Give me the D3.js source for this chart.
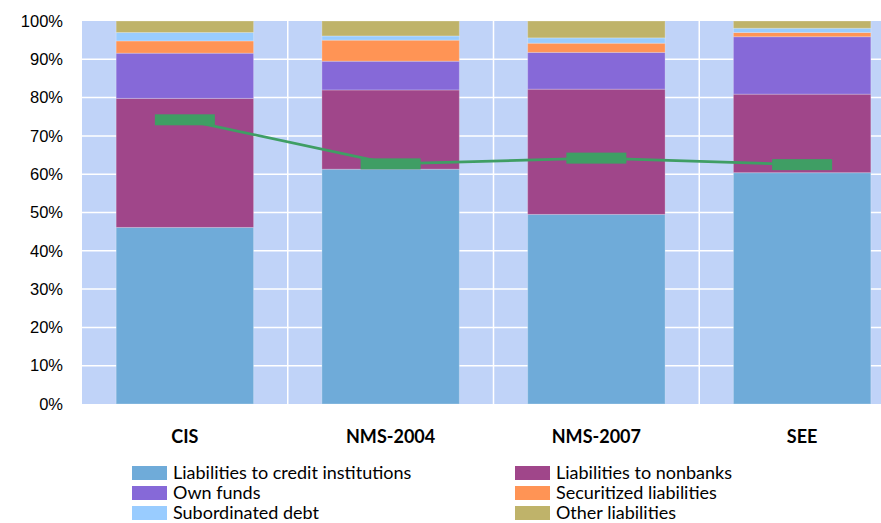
<!DOCTYPE html>
<html>
<head>
<meta charset="utf-8">
<title>Liabilities structure</title>
<style>
  body { margin: 0; background: #fff; }
  svg { font-family: Lato, "Open Sans", sans-serif; }
  .tick text { font-size: 16.5px; fill: #000; }
  .xlab { font-size: 18px; font-weight: bold; }
  .legend text { font-size: 18px; }
</style>
</head>
<body>
<svg width="881" height="523"></svg>
<script src="https://d3js.org/d3.v7.min.js"></script>
<script>
// data (shares of total, %)
const regions = ['CIS', 'NMS-2004', 'NMS-2007', 'SEE'];
const seriesNames = ['Liabilities to credit institutions', 'Liabilities to nonbanks', 'Own funds',
  'Securitized liabilities', 'Subordinated debt', 'Other liabilities'];
const creditInst = [46.1, 61.3, 49.5, 60.4];
const nonbanks = [33.7, 20.7, 32.7, 20.5];
const ownFunds = [11.8, 7.5, 9.6, 15.0];
const securitized = [3.2, 5.5, 2.4, 1.1];
const subordinated = [2.2, 1.1, 1.4, 1.1];
const other = [3.0, 3.9, 4.4, 1.9];
const lineValues = [74.2, 62.7, 64.2, 62.5];
const yTicks = [0, 10, 20, 30, 40, 50, 60, 70, 80, 90, 100];

const colors = ['#6fabd9', '#a0468a', '#8669d8', '#ff9455', '#99ccff', '#bfb36a'];

const width = 881, height = 523;
const margin = { top: 21, left: 82, bottom: 119 };
const plotW = 823; // plot runs past the right edge
const plotBottom = height - margin.bottom;

const svg = d3.select('svg');

const x = d3.scaleBand().domain(regions)
  .range([margin.left, margin.left + plotW])
  .paddingInner(0.332).paddingOuter(0.166);
const y = d3.scaleLinear().domain([0, 100]).range([plotBottom, margin.top]);

// background
svg.append('rect')
  .attr('x', margin.left).attr('y', margin.top)
  .attr('width', plotW).attr('height', plotBottom - margin.top)
  .attr('fill', '#c0d3f8');

// grid
svg.append('g').selectAll('line').data(yTicks.slice(1, -1)).join('line')
  .attr('x1', margin.left).attr('x2', margin.left + plotW)
  .attr('y1', d => y(d)).attr('y2', d => y(d))
  .attr('stroke', '#fff').attr('stroke-width', 1.5);
svg.append('g').selectAll('line').data(regions.slice(1)).join('line')
  .attr('x1', d => x(d) - x.step() * x.paddingInner() / 2)
  .attr('x2', d => x(d) - x.step() * x.paddingInner() / 2)
  .attr('y1', margin.top).attr('y2', plotBottom)
  .attr('stroke', '#fff').attr('stroke-width', 1.5);

// stacked bars
const table = regions.map((r, i) => ({
  region: r,
  s0: creditInst[i], s1: nonbanks[i], s2: ownFunds[i],
  s3: securitized[i], s4: subordinated[i], s5: other[i]
}));
const stack = d3.stack().keys(['s0', 's1', 's2', 's3', 's4', 's5'])(table);

svg.append('g').selectAll('g').data(stack).join('g')
  .attr('fill', (d, i) => colors[i])
  .selectAll('rect').data(d => d).join('rect')
  .attr('x', d => x(d.data.region))
  .attr('width', x.bandwidth())
  .attr('y', d => y(d[1]))
  .attr('height', d => y(d[0]) - y(d[1]))
  .attr('stroke', 'rgba(255,255,255,0.25)').attr('stroke-width', 1);

// line with dash markers
const cx = r => x(r) + x.bandwidth() / 2;
svg.append('path')
  .datum(lineValues)
  .attr('fill', 'none').attr('stroke', '#3f9e64').attr('stroke-width', 2.7)
  .attr('d', d3.line().x((d, i) => cx(regions[i])).y(d => y(d)));
svg.append('g').selectAll('rect').data(lineValues).join('rect')
  .attr('x', (d, i) => cx(regions[i]) - 30)
  .attr('y', d => y(d) - 5.5)
  .attr('width', 60).attr('height', 11)
  .attr('fill', '#3f9e64');

// y axis
const yAxis = svg.append('g')
  .attr('transform', `translate(${margin.left - 19},0)`)
  .call(d3.axisLeft(y).tickValues(yTicks).tickFormat(d => d + '%').tickSize(0).tickPadding(0));
yAxis.select('.domain').remove();
yAxis.selectAll('text').attr('font-family', null).attr('font-size', null);

// x labels
svg.append('g').selectAll('text').data(regions).join('text')
  .attr('class', 'xlab')
  .attr('x', d => cx(d))
  .attr('y', 443)
  .attr('text-anchor', 'middle')
  .text(d => d);

// legend
const legend = svg.append('g').attr('class', 'legend');
const items = legend.selectAll('g').data(seriesNames).join('g')
  .attr('transform', (d, i) => `translate(${i % 2 === 0 ? 132 : 515},${466 + Math.floor(i / 2) * 20})`);
items.append('rect')
  .attr('width', 35).attr('height', 14)
  .attr('fill', (d, i) => colors[i]);
items.append('text')
  .attr('x', 41).attr('y', 13)
  .text(d => d);
</script>
</body>
</html>
